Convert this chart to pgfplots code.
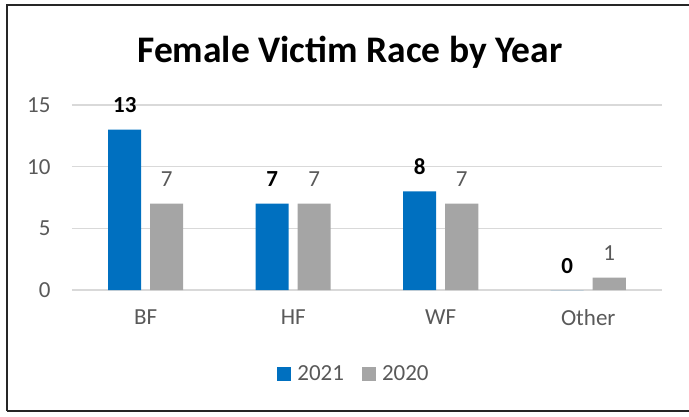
\documentclass[border=0pt]{standalone}
\usepackage{pgfplots}
\pgfplotsset{compat=1.18}
\usepackage{fontspec}
\setmainfont{Carlito}
\definecolor{c21}{RGB}{0,112,192}
\definecolor{c20}{RGB}{165,165,165}
\definecolor{txt}{RGB}{89,89,89}
\definecolor{grd}{RGB}{217,217,217}
\begin{document}
\begin{tikzpicture}[x=1pt,y=1pt]
\path[use as bounding box] (0,0) rectangle (689,416);
\draw[line width=1.8pt, color=black!85] (7,5) -- (7,411) -- (695,411);
\draw[line width=1.8pt, color=black!85] (7,5) -- (695,5);
\node[font=\fontsize{37.5}{42}\selectfont\bfseries, anchor=base] at (350,353) {Female Victim Race by Year};
\begin{axis}[
  at={(145.75pt,126pt)}, anchor=origin,
  scale only axis, width=590pt, height=185pt,
  xmin=-0.5, xmax=3.5, ymin=0, ymax=15,
  ybar, bar width=33pt,
  axis line style={draw=none},
  major tick length=0pt,
  ymajorgrids, grid style={draw=grd, line width=1.5pt},
  xtick={0,1,2,3}, xticklabels={BF,HF,WF,Other},
  ytick={0,5,10,15},
  /pgf/number format/assume math mode=true,
  ticklabel style={font=\fontsize{23}{27}\selectfont, text=txt},
  yticklabel style={anchor=east, xshift=-18pt},
  xticklabel style={anchor=north, yshift=-16pt},
  clip=false,
  legend style={at={(0.478,-0.454)}, anchor=center, draw=none, fill=none,
    legend columns=2, font=\fontsize{23}{27}\selectfont, text=txt,
    /tikz/every odd column/.append style={column sep=4pt},
    /tikz/every even column/.append style={column sep=16pt}},
  legend image code/.code={\fill[#1] (0pt,-7pt) rectangle (14pt,7pt);},
]
\addplot[fill=c21, draw=none, bar shift=-21pt,
  nodes near coords,
  every node near coord/.append style={font=\fontsize{23}{27}\selectfont\bfseries, text=black, anchor=base, yshift=17pt}]
  coordinates {(0,13) (1,7) (2,8) (3,0)};
\addplot[fill=c20, draw=none, bar shift=21pt,
  nodes near coords,
  every node near coord/.append style={font=\fontsize{23}{27}\selectfont, text=txt, anchor=base, yshift=17pt}]
  coordinates {(0,7) (1,7) (2,7) (3,1)};
\legend{2021,2020}
\end{axis}
\end{tikzpicture}
\end{document}
